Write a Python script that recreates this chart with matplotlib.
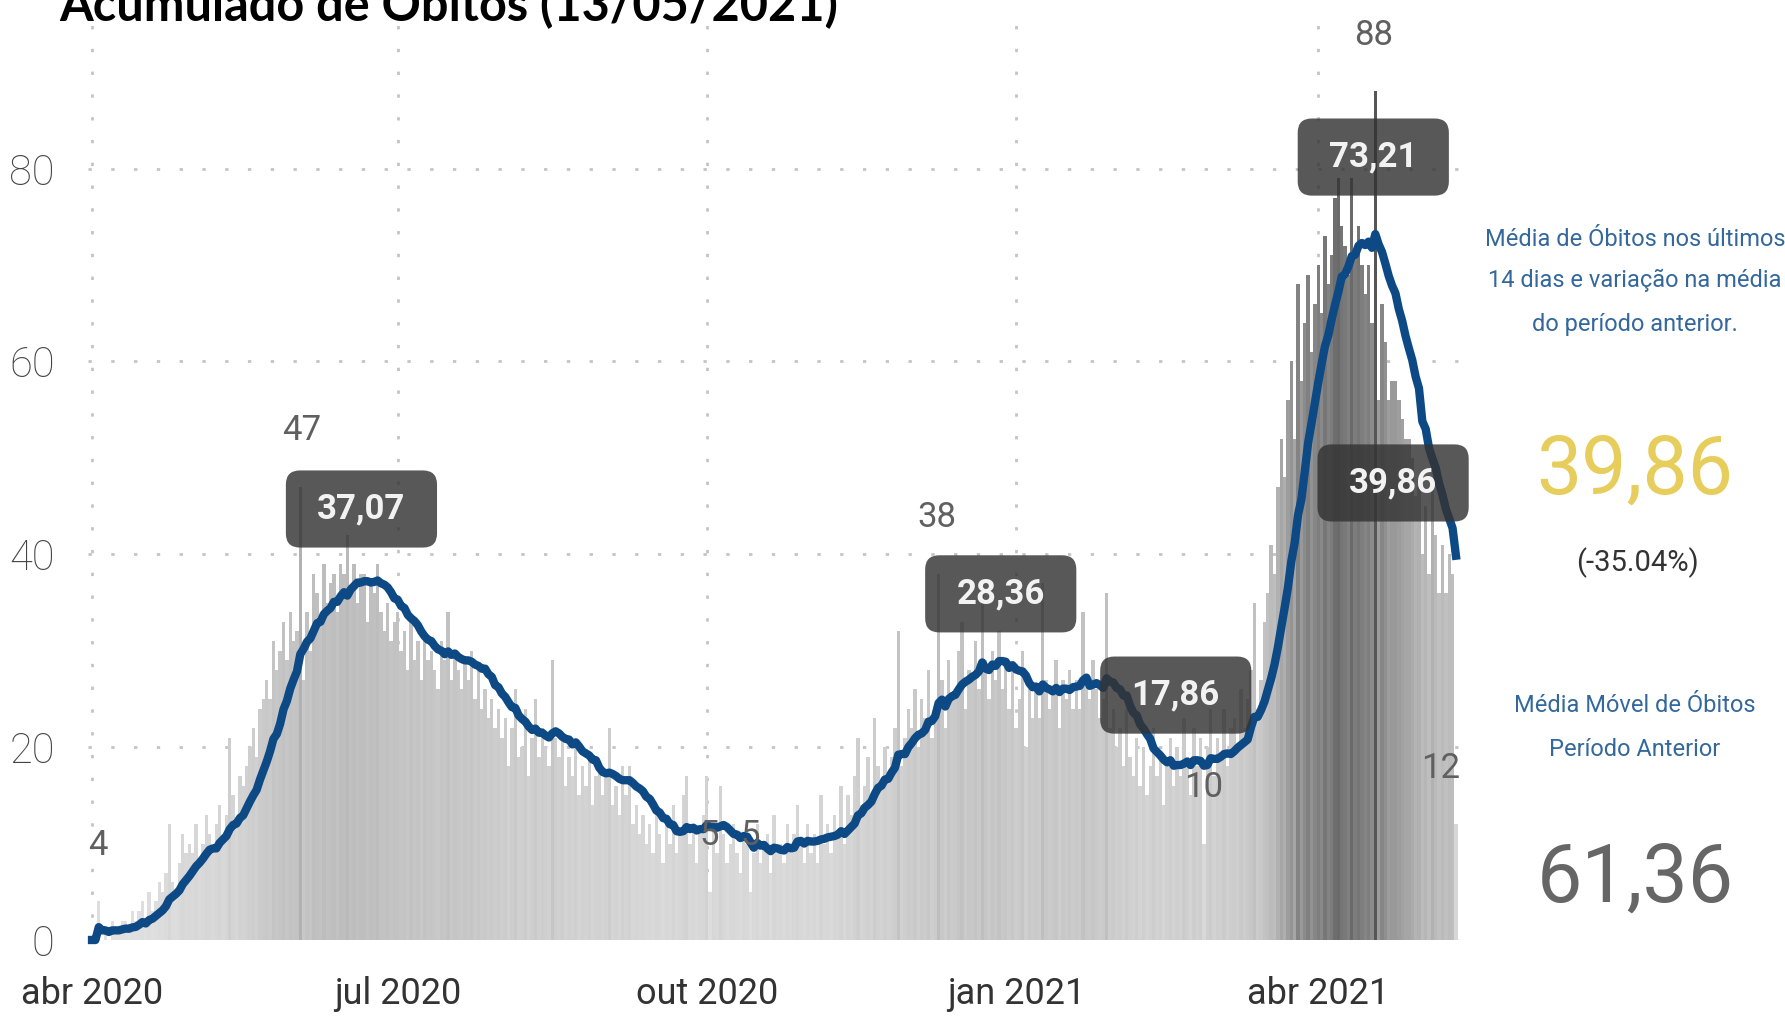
import numpy as np
import pandas as pd
import matplotlib
matplotlib.use('Agg')
import matplotlib.pyplot as plt
import matplotlib.dates as mdates
from matplotlib.colors import LinearSegmentedColormap, Normalize
from matplotlib.patches import FancyBboxPatch

plt.rcParams['font.family'] = ['Roboto', 'DejaVu Sans']

# obitos diarios, um array por mes (abr/2020 .. 12/mai/2021)
abr20 = [0, 0, 4, 0, 1, 0, 2, 1, 1, 2, 2, 1, 3, 2, 3, 4, 2, 5, 3, 4, 6, 5, 7, 12, 6, 5, 8, 11, 9, 10]
mai20 = [9, 12, 8, 10, 13, 11, 9, 12, 14, 10, 13, 21, 15, 12, 17, 16, 18, 20, 22, 19,
         24, 25, 27, 25, 31, 28, 30, 33, 29, 34, 31]
jun20 = [32, 47, 27, 34, 30, 38, 36, 33, 39, 35, 37, 38, 34, 39, 38, 42, 36, 39, 35, 38,
         38, 33, 37, 36, 39, 34, 32, 35, 31, 33]
jul20 = [34, 30, 32, 28, 33, 29, 31, 27, 32, 29, 30, 28, 26, 31, 29, 34, 27, 30, 28, 26,
         29, 27, 30, 25, 28, 24, 26, 23, 25, 22, 24]
ago20 = [21, 23, 18, 22, 26, 19, 20, 24, 17, 21, 25, 19, 22, 20, 18, 29, 21, 19, 21, 16,
         19, 17, 20, 15, 18, 16, 19, 14, 17, 18, 15]
set20 = [17, 22, 14, 16, 13, 18, 15, 18, 12, 14, 11, 13, 10, 12, 9, 13, 11, 8, 12, 10,
         14, 9, 11, 15, 17, 10, 12, 8, 11, 13]
out20 = [17, 5, 12, 9, 16, 11, 8, 10, 12, 9, 7, 11, 10, 5, 9, 12, 8, 10, 11, 7,
         13, 9, 10, 8, 12, 9, 11, 14, 10, 8, 12]
nov20 = [9, 11, 8, 15, 10, 12, 9, 13, 11, 16, 10, 15, 13, 17, 21, 14, 16, 19, 15, 23,
         18, 16, 20, 17, 19, 22, 32, 18, 21, 24]
dez20 = [22, 26, 20, 25, 23, 28, 21, 24, 38, 27, 22, 29, 25, 26, 30, 33, 24, 28, 27, 31,
         26, 37, 29, 25, 30, 27, 32, 26, 29, 24, 28]
jan21 = [22, 25, 30, 20, 26, 23, 26, 23, 37, 27, 24, 26, 29, 22, 27, 25, 28, 24, 27, 24,
         34, 27, 25, 29, 26, 23, 25, 36, 22, 24, 20]
fev21 = [22, 18, 24, 19, 17, 21, 16, 20, 15, 18, 22, 17, 19, 14, 18, 21, 16, 20, 17, 23,
         19, 15, 22, 18, 21, 10, 20, 24]
mar21 = [17, 21, 19, 24, 18, 22, 23, 20, 26, 22, 25, 28, 35, 24, 27, 33, 36, 41, 38, 47,
         52, 48, 56, 60, 52, 68, 58, 64, 69, 61, 66]
abr21 = [70, 65, 73, 68, 71, 77, 79, 74, 72, 69, 79, 71, 74, 70, 67, 70, 64, 88, 56, 66,
         62, 56, 58, 58, 56, 54, 52, 52, 50, 46]
mai21 = [47, 40, 45, 38, 47, 42, 36, 41, 36, 40, 38, 12]

obitos = np.array(abr20 + mai20 + jun20 + jul20 + ago20 + set20 + out20 + nov20
                  + dez20 + jan21 + fev21 + mar21 + abr21 + mai21)
datas = pd.date_range('2020-04-01', periods=len(obitos), freq='D')
media_movel = pd.Series(obitos).rolling(14, min_periods=1).mean()

# rotulos da media movel (caixas)
rotulos_media = [37.07, 28.36, 17.86, 73.21, 39.86]
box_dia = [80.2, 270.5, 322.6, 381.4, 387.3]
box_y = [44.7, 35.9, 25.4, 81.2, 47.4]

# rotulos de barras (min / max)
rot_idx = [2, 62, 184, 196, 252, 331, 382, 406]
rot_dia = [1.8, 62.4, 183.8, 196.0, 251.5, 330.8, 381.4, 401.3]

meses_ticks = ['2020-04-01', '2020-07-01', '2020-10-01', '2021-01-01', '2021-04-01']
meses_rot = ['abr 2020', 'jul 2020', 'out 2020', 'jan 2021', 'abr 2021']

media_14 = 39.86
media_ant = 61.36
variacao = (media_14 / media_ant - 1) * 100

fig = plt.figure(figsize=(17.85, 10.24), dpi=100)
ax = fig.add_axes([88 / 1785, 84 / 1024, 1377 / 1785, 916 / 1024])

cmap = LinearSegmentedColormap.from_list('cinza', ['#e2e2e2', '#b8b8b8', '#565656'])
cores = cmap(Normalize(0, 88)(obitos))
ax.bar(datas, obitos, width=1.0, color=cores, linewidth=0, zorder=2)
ax.plot(datas, media_movel, color='#0d4a85', lw=6, zorder=3,
        solid_joinstyle='round', clip_on=False)

x0 = mdates.date2num(datas[0])
for v, d, y in zip(rotulos_media, box_dia, box_y):
    w, h = 45, 8.0
    p = FancyBboxPatch((x0 + d - w / 2, y - h / 2), w, h,
                       boxstyle='round,pad=0,rounding_size=4.2',
                       mutation_aspect=0.3483, fc='#333333', ec='none',
                       alpha=0.82, zorder=4, clip_on=False)
    ax.add_patch(p)
    ax.text(x0 + d, y, f'{v:.2f}'.replace('.', ','), color='#f2f2f2',
            fontsize=25, fontweight='bold', ha='center', va='center', zorder=5)

for i, d in zip(rot_idx, rot_dia):
    ax.text(x0 + d, obitos[i] + 5.8, str(obitos[i]), color='#606060',
            fontsize=25, ha='center', va='center', zorder=5)

ax.set_xlim(x0 - 1.2, x0 + 408.7)
ax.set_ylim(0, 95)
ax.set_yticks([0, 20, 40, 60, 80])
ax.set_xticks(pd.to_datetime(meses_ticks))
ax.set_xticklabels(meses_rot)
ax.tick_params(axis='y', length=0, pad=24, labelsize=30, labelcolor='#444444')
ax.tick_params(axis='x', length=0, pad=26, labelsize=26, labelcolor='#333333')
for t in ax.get_yticklabels():
    t.set_fontweight('light')
ax.grid(True, color='#c4c4c4', linestyle=(0, (1.2, 7)), linewidth=2, zorder=0)
ax.set_axisbelow(True)
for s in ax.spines.values():
    s.set_visible(False)

# painel da direita
azul = '#34689c'
cx = 1635 / 1785
def fy(py):
    return 1 - py / 1024

for txt, py in [('Média de Óbitos nos últimos', 239),
                ('14 dias e variação na média', 280),
                ('do período anterior.', 324)]:
    fig.text(cx, fy(py), txt, color=azul, fontsize=17, ha='center', va='center')
fig.text(cx, fy(472), f'{media_14:.2f}'.replace('.', ','), color='#e6cd5c',
         fontsize=58, ha='center', va='center')
fig.text(cx + 2 / 1785, fy(563), f'({variacao:.2f}%)', color='#333333',
         fontsize=21, ha='center', va='center')
fig.text(cx, fy(706), 'Média Móvel de Óbitos', color=azul, fontsize=17,
         ha='center', va='center')
fig.text(cx, fy(749), 'Período Anterior', color=azul, fontsize=17,
         ha='center', va='center')
fig.text(cx, fy(880), f'{media_ant:.2f}'.replace('.', ','), color='#666666',
         fontsize=58, ha='center', va='center')

fig.text(59 / 1785, fy(20), 'Acumulado de Óbitos (13/05/2021)', fontsize=35,
         fontweight='bold', family=['Lato', 'DejaVu Sans'],
         ha='left', va='baseline')

fig.savefig('out.png', dpi=100)
